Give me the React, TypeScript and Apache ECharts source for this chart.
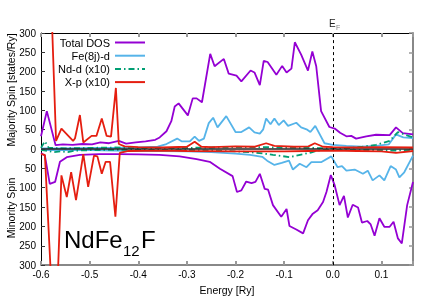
import React, { useEffect, useRef } from "react";
import * as echarts from "echarts";

const seriesNames = ["Total DOS", "Fe(8j)-d", "Nd-d (x10)", "X-p (x10)"];

// Majority spin (positive)
const totalUp = [[-0.6,33],[-0.588,98],[-0.57,10],[-0.555,12],[-0.535,11],[-0.515,13],[-0.495,12],[-0.478,17],[-0.46,15],[-0.44,21],[-0.425,14],[-0.405,17],[-0.385,20],[-0.365,24],[-0.356,30],[-0.342,46],[-0.332,72],[-0.325,110],[-0.317,118],[-0.298,87],[-0.288,131],[-0.28,131],[-0.269,121],[-0.252,246],[-0.243,214],[-0.224,233],[-0.214,195],[-0.198,190],[-0.188,175],[-0.169,203],[-0.161,198],[-0.15,165],[-0.142,228],[-0.134,225],[-0.116,192],[-0.104,215],[-0.095,198],[-0.085,208],[-0.078,276],[-0.065,244],[-0.051,203],[-0.042,252],[-0.034,214],[-0.024,98],[-0.007,57],[0.004,53],[0.015,42],[0.028,33],[0.038,34],[0.048,27],[0.069,33],[0.089,37],[0.117,36],[0.13,56],[0.144,41],[0.165,38]];
const feUp = [[-0.6,2],[-0.55,2],[-0.5,3],[-0.45,3],[-0.4,4],[-0.36,6],[-0.342,13],[-0.32,27],[-0.311,20],[-0.294,20],[-0.284,32],[-0.275,21],[-0.265,27],[-0.255,67],[-0.246,81],[-0.237,56],[-0.219,85],[-0.2,44],[-0.188,44],[-0.172,56],[-0.161,43],[-0.15,40],[-0.143,51],[-0.137,79],[-0.128,64],[-0.12,79],[-0.111,62],[-0.101,74],[-0.092,60],[-0.075,68],[-0.065,56],[-0.054,51],[-0.046,44],[-0.036,60],[-0.017,15],[0,11],[0.028,8],[0.06,6],[0.09,8],[0.115,12],[0.13,38],[0.145,30],[0.165,28]];
const ndUp = [[-0.6,3],[-0.592,20],[-0.584,3],[-0.55,2],[-0.5,3],[-0.45,4],[-0.4,2],[-0.3,3],[-0.25,4],[-0.2,5],[-0.15,5],[-0.1,4],[-0.05,3],[0,2],[0.03,2],[0.061,6],[0.089,11],[0.117,21],[0.134,44],[0.147,38],[0.165,30]];
const xUp = [[-0.6,520],[-0.58,420],[-0.569,21],[-0.558,53],[-0.534,21],[-0.53,28],[-0.52,88],[-0.513,17],[-0.496,34],[-0.486,34],[-0.475,79],[-0.465,34],[-0.456,32],[-0.446,158],[-0.44,13],[-0.428,7],[-0.4,5],[-0.35,4],[-0.3,6],[-0.284,19],[-0.27,6],[-0.25,5],[-0.2,7],[-0.16,6],[-0.137,15],[-0.12,8],[-0.08,6],[-0.05,7],[-0.037,15],[-0.02,6],[0,5],[0.05,4],[0.1,5],[0.165,4]];

// Minority spin (negative)
const totalDown = [[-0.6,-10],[-0.592,-17],[-0.582,-90],[-0.571,-85],[-0.561,-33],[-0.547,-21],[-0.52,-15],[-0.48,-13],[-0.44,-13],[-0.4,-14],[-0.356,-15],[-0.315,-19],[-0.28,-26],[-0.253,-33],[-0.232,-51],[-0.206,-70],[-0.197,-111],[-0.188,-107],[-0.178,-84],[-0.167,-88],[-0.159,-85],[-0.15,-64],[-0.14,-103],[-0.133,-105],[-0.123,-145],[-0.106,-175],[-0.095,-155],[-0.089,-199],[-0.075,-208],[-0.061,-218],[-0.051,-184],[-0.041,-167],[-0.031,-158],[-0.02,-137],[-0.013,-111],[-0.004,-67],[0.004,-94],[0.014,-145],[0.023,-121],[0.031,-177],[0.041,-144],[0.052,-151],[0.06,-190],[0.071,-186],[0.078,-195],[0.086,-224],[0.096,-179],[0.106,-201],[0.117,-201],[0.125,-188],[0.134,-231],[0.142,-244],[0.153,-145],[0.165,-85]];
const feDown = [[-0.6,-3],[-0.55,-3],[-0.5,-3],[-0.45,-4],[-0.4,-5],[-0.35,-5],[-0.3,-6],[-0.25,-8],[-0.2,-12],[-0.17,-15],[-0.145,-20],[-0.135,-30],[-0.12,-41],[-0.105,-36],[-0.09,-30],[-0.082,-53],[-0.068,-38],[-0.054,-47],[-0.044,-34],[-0.024,-34],[-0.003,-19],[0.01,-47],[0.019,-44],[0.028,-56],[0.045,-53],[0.062,-64],[0.072,-56],[0.082,-81],[0.096,-68],[0.106,-81],[0.119,-44],[0.13,-53],[0.137,-73],[0.147,-60],[0.165,-17]];
const ndDown = [[-0.6,-2],[-0.585,-5],[-0.575,-8],[-0.56,-6],[-0.545,-8],[-0.53,-4],[-0.5,-3],[-0.45,-2],[-0.4,-2],[-0.3,-3],[-0.25,-4],[-0.2,-6],[-0.17,-8],[-0.14,-12],[-0.123,-15],[-0.105,-18],[-0.089,-21],[-0.075,-17],[-0.06,-13],[-0.045,-9],[-0.031,-4],[-0.01,-2],[0.03,-3],[0.08,-3],[0.12,-4],[0.165,-3]];
const xDown = [[-0.6,-13],[-0.592,-15],[-0.576,-420],[-0.568,-420],[-0.558,-68],[-0.547,-124],[-0.538,-60],[-0.528,-132],[-0.513,-13],[-0.503,-98],[-0.491,-17],[-0.484,-19],[-0.475,-64],[-0.467,-33],[-0.458,-33],[-0.447,-175],[-0.438,-10],[-0.42,-5],[-0.35,-4],[-0.3,-5],[-0.2,-6],[-0.1,-6],[-0.05,-5],[0,-4],[0.05,-5],[0.1,-6],[0.13,-10],[0.165,-5]];

const xMin = -0.6;
const xMax = 0.165;
const yMin = -300;
const yMax = 300;

export default function App() {
  const ref = useRef<HTMLDivElement>(null);
  useEffect(() => {
    const chart = echarts.init(ref.current!, null, { renderer: "svg" });
    const font = "Liberation Sans, Arial, sans-serif";
    const colors = ["#9400d3", "#56b4e9", "#009e73", "#e51e10"];
    const types: any[] = ["solid", "solid", [6, 3, 1.5, 3], "solid"];
    const up = [totalUp, feUp, ndUp, xUp];
    const down = [totalDown, feDown, ndDown, xDown];
    const mk = (data: number[][], i: number, z: number) => ({
      type: "line",
      name: seriesNames[i],
      data,
      symbol: "none",
      clip: true,
      z,
      lineStyle: { color: colors[i], width: 1.8, type: types[i] },
      itemStyle: { color: colors[i] },
    });
    const series: any[] = [];
    up.forEach((d, i) => series.push(mk(d, i, 2 + i)));
    down.forEach((d, i) => series.push(mk(d, i, 2 + i)));
    series[series.length - 1].markLine = {
      silent: true,
      symbol: "none",
      label: { show: false },
      data: [
        { yAxis: 0, lineStyle: { color: "#222", width: 1.5, type: "solid" } },
        { xAxis: 0, lineStyle: { color: "#000", width: 1, type: [3, 3] } },
      ],
    };
    series[series.length - 1].z = 10;

    const xLabel = (v: number) => {
      if (Math.abs(v * 10 - Math.round(v * 10)) > 1e-6) return "";
      return Math.abs(v) < 1e-9 ? "0.0" : v.toFixed(1);
    };

    chart.setOption({
      animation: false,
      grid: { left: 41, right: 15, top: 33, bottom: 33 },
      legend: {
        data: seriesNames,
        orient: "vertical",
        align: "right",
        right: 282,
        top: 37,
        padding: 0,
        itemWidth: 30,
        itemHeight: 12,
        itemGap: 2.2,
        selectedMode: false,
        itemStyle: { color: "rgba(0,0,0,0)", borderColor: "rgba(0,0,0,0)", borderWidth: 0 },
        textStyle: { fontFamily: font, fontSize: 11, color: "#000" },
      },
      xAxis: [
        {
          type: "value",
          min: xMin,
          max: xMax,
          interval: 0.1,
          position: "bottom",
          axisLine: { show: true, onZero: false, lineStyle: { color: "#888", width: 2 } },
          axisTick: { show: true, inside: true, length: 4, lineStyle: { color: "#999", width: 2 } },
          splitLine: { show: false },
          axisLabel: {
            fontFamily: font,
            fontSize: 10,
            color: "#000",
            margin: 4,
            formatter: xLabel,
          },
          name: "Energy [Ry]",
          nameLocation: "middle",
          nameGap: 17,
          nameTextStyle: { fontFamily: font, fontSize: 10.5, color: "#000" },
        },
        {
          type: "value",
          min: xMin,
          max: xMax,
          interval: 0.1,
          position: "top",
          axisLine: { show: true, onZero: false, lineStyle: { color: "#000", width: 1 } },
          axisTick: { show: true, inside: true, length: 4, lineStyle: { color: "#999", width: 2 } },
          splitLine: { show: false },
          axisLabel: { show: false },
        },
      ],
      yAxis: [
        {
          type: "value",
          min: yMin,
          max: yMax,
          interval: 50,
          position: "left",
          axisLine: { show: true, onZero: false, lineStyle: { color: "#000", width: 1 } },
          axisTick: { show: true, inside: true, length: 4, lineStyle: { color: "#333", width: 1 } },
          splitLine: { show: false },
          axisLabel: {
            fontFamily: font,
            fontSize: 10,
            color: "#000",
            margin: 5,
            formatter: (v: number) => String(Math.abs(v)),
          },
        },
        {
          type: "value",
          min: yMin,
          max: yMax,
          interval: 50,
          position: "right",
          axisLine: { show: true, onZero: false, lineStyle: { color: "#888", width: 2 } },
          axisTick: { show: true, inside: true, length: 4, lineStyle: { color: "#999", width: 1.5 } },
          splitLine: { show: false },
          axisLabel: { show: false },
        },
      ],
      graphic: [
        {
          type: "text",
          x: 11,
          y: 90,
          rotation: Math.PI / 2,
          style: { text: "Majority Spin [states/Ry]", fontFamily: font, fontSize: 10.5, fill: "#000", align: "center", verticalAlign: "middle" },
        },
        {
          type: "text",
          x: 11,
          y: 208,
          rotation: Math.PI / 2,
          style: { text: "Minority Spin", fontFamily: font, fontSize: 10.5, fill: "#000", align: "center", verticalAlign: "middle" },
        },
        {
          type: "text",
          x: 329,
          y: 28,
          style: { text: "E", fontFamily: font, fontSize: 10, fill: "#222", align: "left", verticalAlign: "bottom" },
        },
        {
          type: "text",
          x: 336,
          y: 31,
          style: { text: "F", fontFamily: font, fontSize: 7, fill: "#888", align: "left", verticalAlign: "bottom" },
        },
        {
          type: "text",
          x: 64,
          y: 251,
          z: 20,
          style: { text: "NdFe", fontFamily: font, fontSize: 24, fill: "#000", align: "left", verticalAlign: "bottom" },
        },
        {
          type: "text",
          x: 123,
          y: 258,
          z: 20,
          style: { text: "12", fontFamily: font, fontSize: 15, fill: "#000", align: "left", verticalAlign: "bottom" },
        },
        {
          type: "text",
          x: 141,
          y: 251,
          z: 20,
          style: { text: "F", fontFamily: font, fontSize: 24, fill: "#000", align: "left", verticalAlign: "bottom" },
        },
      ],
      series,
    });
    return () => chart.dispose();
  }, []);
  return <div ref={ref} style={{ position: "fixed", left: 0, top: 0, width: 428, height: 300 }} />;
}
